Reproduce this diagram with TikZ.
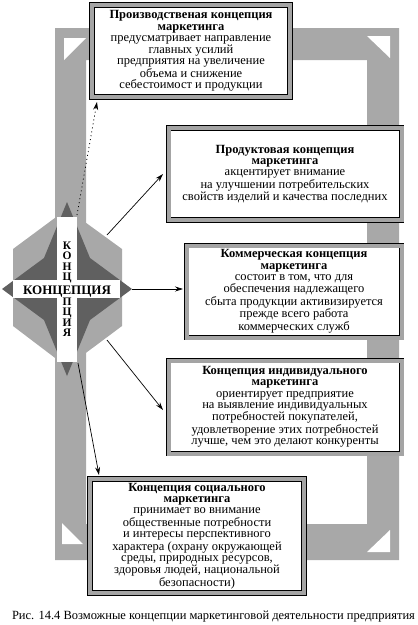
\documentclass[tikz,border=0pt]{standalone}
\usepackage{fontspec}
\setmainfont{Liberation Serif}
\usetikzlibrary{arrows.meta}
\definecolor{bandgray}{HTML}{A8A8A8}
\definecolor{framegray}{HTML}{A4A4A4}
\definecolor{darkstar}{HTML}{606060}
\tikzset{
  conbox/.style={draw=black, line width=0.9pt, double=framegray, double distance=4pt,
    fill=white, inner sep=0pt, align=center, font=\fontsize{12.5}{11.2}\selectfont},
  conn/.style={line width=0.7pt, -{Stealth[length=8pt,width=5pt]}},
  dotconn/.style={line width=0.8pt, dash pattern=on 1pt off 3pt, -{Stealth[length=8pt,width=5pt]}},
  capword/.style={font=\bfseries\fontsize{13}{13}\selectfont, inner sep=0pt, anchor=base},
  vletter/.style={font=\bfseries\fontsize{11.5}{11.5}\selectfont, inner sep=0pt, anchor=base},
}
\begin{document}
\begin{tikzpicture}[x=1pt,y=-1pt]
\useasboundingbox (0,0) rectangle (418,625);
% gray frame band
\fill[bandgray, even odd rule] (55,28) rectangle (399,560) (86,60) rectangle (367,524);
\fill[white] (64,38) -- (86,38) -- (64,60) -- cycle;
\fill[white] (367,36) -- (390,36) -- (390,58) -- cycle;
\fill[white] (62,523) -- (62,544) -- (83,544) -- cycle;
\fill[white] (390,530) -- (390,552) -- (367,552) -- cycle;
% central emblem
\fill[bandgray] (67,209) -- (122,249) -- (122,326) -- (67,367) -- (13,326) -- (13,249) -- cycle;
\fill[darkstar] (67,202) -- (90,258) -- (132,289) -- (90,320) -- (67,376)
   -- (44,320) -- (2,289) -- (44,258) -- cycle;
\fill[white] (57,217) rectangle (77,362);
\fill[white] (13,280) rectangle (120,298);
\node[capword] (hword) at (67,294.5) {КОНЦЕПЦИЯ};
\node[vletter] (v1) at (67,249) {К};
\node[vletter] (v2) at (67,259.5) {О};
\node[vletter] (v3) at (67,270) {Н};
\node[vletter] (v4) at (67,280) {Ц};
\node[vletter] (v5) at (67,305.5) {П};
\node[vletter] (v6) at (67,315.5) {Ц};
\node[vletter] (v7) at (67,326) {И};
\node[vletter] (v8) at (67,336) {Я};
% boxes
\node[conbox, minimum width=198pt, minimum height=92pt] (b1) at (191,51)
 {\textbf{Производственая концепция}\\ \textbf{маркетинга}\\ предусматривает направление\\ главных усилий\\ предприятия на увеличение\\ объема и снижение\\ себестоимост и продукции};
\node[conbox, minimum width=233pt, minimum height=92pt] (b2) at (285,174)
 {\textbf{Продуктовая концепция}\\ \textbf{маркетинга}\\ акцентирует внимание\\ на улучшении потребительских\\ свойств изделий и качества последних};
\node[conbox, minimum width=215pt, minimum height=92pt] (b3) at (294,291.5)
 {\textbf{Коммерческая концепция}\\ \textbf{маркетинга}\\ состоит в том, что для\\ обеспечения надлежащего\\ сбыта продукции активизируется\\ прежде всего работа\\ коммерческих служб};
\node[conbox, minimum width=233pt, minimum height=93pt] (b4) at (285,407)
 {\textbf{Концепция индивидуального}\\ \textbf{маркетинга}\\ ориентирует предприятие\\ на выявление индивидуальных\\ потребностей покупателей,\\ удовлетворение этих потребностей\\ лучше, чем это делают конкуренты};
\node[conbox, minimum width=214pt, minimum height=114pt] (b5) at (197,536)
 {\textbf{Концепция социального}\\ \textbf{маркетинга}\\ принимает во внимание\\ общественные потребности\\ и интересы перспективного\\ характера (охрану окружающей\\ среды, природных ресурсов,\\ здоровья людей, национальной\\ безопасности)};
% connectors
\coordinate (s1) at (77,215);  \coordinate (e1) at (97,102);
\coordinate (s2) at (107,235); \coordinate (e2) at (163,174);
\coordinate (s3) at (132,289); \coordinate (e3) at (183,289);
\coordinate (s4) at (107,340); \coordinate (e4) at (163,410);
\coordinate (s5) at (78,363);  \coordinate (e5) at (99,475);
\draw[dotconn] (s1) -- (e1);
\draw[conn] (s2) -- (e2);
\draw[conn] (s3) -- (e3);
\draw[conn] (s4) -- (e4);
\draw[conn] (s5) -- (e5);
% caption
\node[font=\fontsize{12.5}{12}\selectfont, inner sep=0pt] (cap) at (213.5,617)
 {Рис. 14.4 Возможные концепции маркетинговой деятельности предприятия};
\end{tikzpicture}
\end{document}
